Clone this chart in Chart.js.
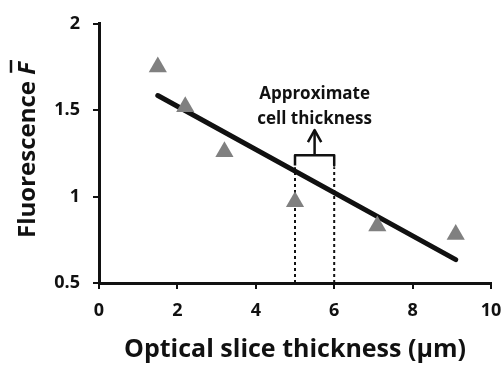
<!DOCTYPE html>
<html>
<head>
<meta charset="utf-8">
<script src="https://cdn.jsdelivr.net/npm/chart.js@4"></script>
<style>
  html, body { margin: 0; padding: 0; background: #fff; }
  #wrap { width: 503px; height: 365px; }
</style>
</head>
<body>
<div id="wrap"><canvas id="chart"></canvas></div>
<script>
// measured points (optical slice thickness, fluorescence)
const sliceX = [1.5, 2.2, 3.2, 5.0, 7.1, 9.1];
const fluorY = [1.75, 1.52, 1.26, 0.97, 0.83, 0.78];

// fitted trend line end points
const fitX = [1.5, 9.1];
const fitY = [1.585, 0.635];

// cell thickness band (dotted guides + bracket + arrow)
const bandX = [5, 6];
const guideTop = 1.17;
const bracketLow = 1.18;
const bracketHigh = 1.24;
const arrowTip = 1.385;

const xTicks = [0, 2, 4, 6, 8, 10];
const yTicks = [0.5, 1, 1.5, 2];

const FONT = '"Open Sans", Lato, sans-serif';
const INK = '#111';

const toPts = (xs, ys) => xs.map((x, i) => ({ x: x, y: ys[i] }));
const mid = (bandX[0] + bandX[1]) / 2;

// draws the annotation text and the y-axis title (F with overbar)
const extras = {
    id: 'extras',
    afterDraw(chart) {
        const ctx = chart.ctx;
        const xs = chart.scales.x, ys = chart.scales.y;
        ctx.save();
        ctx.fillStyle = INK;
        ctx.textAlign = 'center';
        ctx.textBaseline = 'middle';
        ctx.font = 'bold 17px ' + FONT;
        ctx.fillText('Approximate', xs.getPixelForValue(mid), ys.getPixelForValue(1.59));
        ctx.fillText('cell thickness', xs.getPixelForValue(mid), ys.getPixelForValue(1.447));

        // y title
        ctx.translate(26, 150);
        ctx.rotate(-Math.PI / 2);
        const a = 'Fluorescence ';
        ctx.font = 'bold 24px ' + FONT;
        const wa = ctx.measureText(a).width;
        ctx.font = 'italic bold 24px ' + FONT;
        const wf = ctx.measureText('F').width;
        const start = -(wa + wf) / 2;
        ctx.textAlign = 'left';
        ctx.textBaseline = 'alphabetic';
        ctx.font = 'bold 24px ' + FONT;
        ctx.fillText(a, start, 9);
        ctx.font = 'italic bold 24px ' + FONT;
        ctx.fillText('F', start + wa, 9);
        ctx.strokeStyle = INK;
        ctx.lineWidth = 2.5;
        ctx.beginPath();
        ctx.moveTo(start + wa + 2, -15);
        ctx.lineTo(start + wa + wf + 2, -15);
        ctx.stroke();
        ctx.restore();
    }
};

const lineSet = (data, width, dash) => ({
    type: 'line',
    data: data,
    borderColor: INK,
    borderWidth: width,
    borderDash: dash || [],
    borderJoinStyle: 'round',
    pointRadius: 0,
    fill: false,
    tension: 0,
    borderCapStyle: 'butt'
});

const tickFont = { family: FONT, size: 18, weight: 'bold' };

new Chart(document.getElementById('chart'), {
    type: 'scatter',
    data: {
        datasets: [
            {
                data: toPts(sliceX, fluorY),
                pointStyle: 'triangle',
                pointRadius: 10.5,
                backgroundColor: '#808080',
                borderColor: '#808080',
                borderWidth: 0
            },
            Object.assign(lineSet(toPts(fitX, fitY), 5), { borderCapStyle: 'round' }),
            lineSet([{ x: bandX[0], y: 0.5 }, { x: bandX[0], y: guideTop }], 2, [3, 3]),
            lineSet([{ x: bandX[1], y: 0.5 }, { x: bandX[1], y: guideTop }], 2, [3, 3]),
            lineSet([
                { x: bandX[0], y: bracketLow }, { x: bandX[0], y: bracketHigh },
                { x: bandX[1], y: bracketHigh }, { x: bandX[1], y: bracketLow }
            ], 2.5),
            lineSet([{ x: mid, y: bracketHigh }, { x: mid, y: arrowTip }], 2.5),
            lineSet([
                { x: mid - 0.17, y: arrowTip - 0.07 }, { x: mid, y: arrowTip },
                { x: mid + 0.17, y: arrowTip - 0.07 }
            ], 2.5)
        ]
    },
    options: {
        responsive: true,
        maintainAspectRatio: false,
        animation: false,
        layout: { padding: { top: 20, right: 12, left: 0, bottom: 0 } },
        plugins: { legend: { display: false }, tooltip: { enabled: false } },
        scales: {
            x: {
                type: 'linear',
                min: 0, max: 10,
                afterBuildTicks: s => { s.ticks = xTicks.map(v => ({ value: v })); },
                afterFit: s => { s.height = 82; s.paddingLeft = 0; s.paddingRight = 0; },
                border: { display: true, color: INK, width: 3 },
                grid: { drawOnChartArea: false, drawTicks: true, tickLength: 6, color: INK, lineWidth: 2 },
                ticks: { color: INK, font: tickFont, padding: 11, maxRotation: 0, callback: v => String(v) },
                title: {
                    display: true,
                    text: 'Optical slice thickness (µm)',
                    color: INK,
                    font: { family: FONT, size: 25, weight: 'bold' },
                    padding: { top: 2, bottom: 0 }
                }
            },
            y: {
                type: 'linear',
                min: 0.5, max: 2,
                afterBuildTicks: s => { s.ticks = yTicks.map(v => ({ value: v })); },
                afterFit: s => { s.width = 99; },
                border: { display: true, color: INK, width: 3 },
                grid: { drawOnChartArea: false, drawTicks: true, tickLength: 6, color: INK, lineWidth: 2 },
                ticks: { color: INK, font: tickFont, padding: 13, callback: v => String(v) }
            }
        }
    },
    plugins: [extras]
});
</script>
</body>
</html>
